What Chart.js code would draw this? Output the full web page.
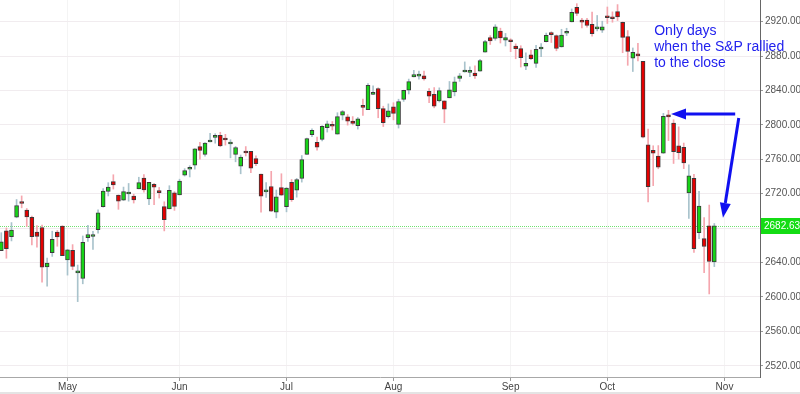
<!DOCTYPE html>
<html lang="en">
<head>
<meta charset="UTF-8">
<title>S&amp;P 500 daily candles</title>
<script src="https://cdn.jsdelivr.net/npm/chart.js@4.4.0/dist/chart.umd.min.js"></script>
<style>
  html, body { margin: 0; padding: 0; background: #fff; }
  #myChart { display: block; }
</style>
</head>
<body>
<canvas id="myChart" width="800" height="394"></canvas>
<script>
// daily candles, 12 Apr .. 30 Oct (one entry per trading day)
const dates = ['04-12','04-13','04-16','04-17','04-18','04-19','04-20','04-23','04-24','04-25','04-26','04-27','04-30',
  '05-01','05-02','05-03','05-04','05-07','05-08','05-09','05-10','05-11','05-14','05-15','05-16','05-17','05-18','05-21','05-22','05-23','05-24','05-25','05-29','05-30','05-31',
  '06-01','06-04','06-05','06-06','06-07','06-08','06-11','06-12','06-13','06-14','06-15','06-18','06-19','06-20','06-21','06-22','06-25','06-26','06-27','06-28','06-29',
  '07-02','07-03','07-05','07-06','07-09','07-10','07-11','07-12','07-13','07-16','07-17','07-18','07-19','07-20','07-23','07-24','07-25','07-26','07-27','07-30','07-31',
  '08-01','08-02','08-03','08-06','08-07','08-08','08-09','08-10','08-13','08-14','08-15','08-16','08-17','08-20','08-21','08-22','08-23','08-24','08-27','08-28','08-29','08-30','08-31',
  '09-04','09-05','09-06','09-07','09-10','09-11','09-12','09-13','09-14','09-17','09-18','09-19','09-20','09-21','09-24','09-25','09-26','09-27','09-28',
  '10-01','10-02','10-03','10-04','10-05','10-08','10-09','10-10','10-11','10-12','10-15','10-16','10-17','10-18','10-19','10-22','10-23','10-24','10-25','10-26','10-29','10-30'];

const opens = [2653.83,2676.90,2670.10,2692.74,2710.11,2701.16,2692.56,2675.40,2680.80,2634.92,2651.65,2675.47,2682.51,
  2642.96,2654.24,2628.08,2621.45,2669.00,2670.26,2678.12,2705.02,2722.70,2734.00,2718.59,2712.62,2719.71,2717.35,2725.70,2738.34,2713.98,2730.94,2723.60,2705.11,2702.43,2720.98,
  2718.70,2741.67,2748.46,2753.25,2774.84,2765.84,2780.18,2785.60,2787.94,2783.21,2777.78,2765.79,2752.01,2769.73,2769.28,2760.79,2742.94,2722.12,2728.45,2698.69,2727.13,
  2704.95,2733.27,2724.19,2737.68,2765.79,2788.56,2779.82,2783.14,2796.93,2800.68,2789.34,2811.35,2809.37,2804.55,2799.17,2820.68,2817.73,2835.49,2842.35,2819.00,2809.73,
  2821.17,2800.48,2829.62,2840.29,2855.92,2856.79,2857.19,2838.90,2835.46,2827.88,2827.95,2831.44,2838.32,2853.93,2861.51,2860.99,2860.29,2862.35,2884.69,2901.45,2900.62,2908.94,2898.37,
  2896.96,2891.59,2888.64,2868.26,2881.39,2871.57,2888.29,2896.85,2906.38,2903.83,2890.74,2906.60,2919.73,2936.76,2921.83,2921.75,2916.98,2911.65,2910.03,
  2926.29,2923.80,2931.69,2919.35,2902.54,2877.53,2882.51,2873.90,2776.87,2770.54,2763.83,2767.05,2811.67,2802.00,2775.66,2773.94,2721.03,2737.87,2674.88,2667.86,2682.65,2640.68];

const highs = [2674.72,2680.26,2686.49,2713.34,2717.49,2702.84,2693.94,2682.86,2683.55,2645.30,2676.48,2677.35,2682.87,
  2655.27,2660.87,2637.14,2670.93,2683.35,2676.34,2701.27,2726.11,2732.86,2742.10,2718.59,2727.76,2731.96,2719.50,2739.19,2742.24,2733.33,2731.97,2727.36,2710.67,2729.34,2722.50,
  2736.93,2749.16,2752.61,2772.39,2779.90,2779.39,2790.21,2789.80,2791.47,2789.06,2782.81,2774.99,2765.05,2774.86,2769.28,2764.17,2742.94,2732.91,2746.09,2724.34,2743.26,
  2727.26,2736.58,2737.83,2764.41,2784.65,2795.58,2785.91,2799.22,2804.53,2803.97,2814.19,2816.76,2812.05,2809.70,2808.61,2829.99,2848.03,2845.57,2843.17,2821.74,2824.46,
  2825.83,2829.91,2840.38,2853.29,2863.43,2862.44,2862.48,2842.20,2843.40,2843.11,2827.95,2850.49,2855.63,2859.76,2873.23,2867.54,2868.78,2876.16,2898.25,2903.77,2916.50,2912.46,2906.32,
  2900.18,2894.21,2892.05,2883.81,2886.93,2892.52,2894.65,2906.76,2908.30,2904.65,2911.17,2912.36,2934.80,2940.91,2923.79,2923.95,2931.15,2927.22,2920.53,
  2937.06,2931.42,2939.86,2919.78,2909.64,2889.45,2894.83,2874.02,2795.14,2775.77,2775.99,2813.46,2816.94,2806.04,2797.77,2778.94,2753.59,2742.59,2722.70,2692.38,2706.85,2685.43];

const lows = [2653.83,2645.05,2665.16,2692.05,2703.63,2681.90,2660.61,2657.99,2617.32,2612.67,2647.16,2659.01,2648.04,
  2625.41,2631.70,2594.62,2615.32,2664.70,2655.20,2674.14,2704.54,2717.45,2725.47,2701.91,2712.17,2711.36,2709.18,2725.70,2721.88,2707.38,2707.38,2714.99,2676.81,2702.43,2700.68,
  2718.70,2740.54,2739.51,2748.46,2760.16,2763.59,2780.17,2778.78,2774.65,2776.52,2761.73,2757.12,2743.19,2763.91,2744.39,2752.68,2698.67,2715.60,2699.38,2691.99,2718.03,
  2698.95,2711.16,2716.02,2733.52,2765.79,2786.24,2770.77,2781.53,2791.69,2794.06,2789.24,2805.89,2799.77,2800.01,2795.14,2811.12,2817.73,2835.26,2808.34,2798.11,2808.06,
  2805.85,2796.34,2827.37,2835.98,2855.92,2853.09,2851.98,2825.81,2819.88,2826.58,2802.49,2831.44,2833.73,2850.62,2861.32,2856.05,2854.03,2862.35,2884.69,2893.50,2898.40,2895.22,2891.73,
  2885.13,2876.92,2867.29,2864.12,2875.94,2866.78,2879.20,2896.39,2895.77,2886.16,2890.43,2903.82,2919.73,2927.11,2912.63,2913.70,2903.28,2909.27,2907.50,
  2917.91,2919.37,2921.36,2883.92,2869.29,2862.08,2874.27,2784.86,2710.51,2729.44,2749.03,2766.91,2781.81,2755.18,2760.27,2749.22,2691.43,2651.89,2667.84,2628.16,2603.54,2635.34];

const closes = [2663.99,2656.30,2677.84,2706.39,2708.64,2693.13,2670.14,2670.29,2634.56,2639.40,2666.94,2669.91,2648.05,
  2654.80,2635.67,2629.73,2663.42,2672.63,2671.92,2697.79,2723.07,2727.72,2730.13,2711.45,2722.46,2720.13,2712.97,2733.01,2724.44,2733.29,2727.76,2721.33,2689.86,2724.01,2705.27,
  2734.62,2746.87,2748.80,2772.35,2770.37,2779.03,2782.00,2786.85,2775.63,2782.49,2779.66,2773.75,2762.59,2767.32,2749.76,2754.88,2717.07,2723.06,2699.63,2716.31,2718.37,
  2726.71,2713.22,2736.61,2759.82,2784.17,2793.84,2774.02,2798.29,2801.31,2798.43,2809.55,2815.62,2804.49,2801.83,2806.98,2820.40,2846.07,2837.44,2818.82,2802.60,2816.29,
  2813.36,2827.22,2840.35,2850.40,2858.45,2857.70,2853.58,2833.28,2821.93,2839.96,2818.37,2840.69,2850.13,2857.05,2862.96,2861.82,2856.98,2874.69,2896.74,2897.52,2914.04,2901.13,2901.52,
  2896.72,2888.60,2878.05,2871.68,2877.13,2887.89,2888.92,2904.18,2904.98,2888.80,2904.31,2907.95,2930.75,2929.67,2919.37,2915.56,2905.97,2914.00,2913.98,
  2924.59,2923.43,2925.51,2901.61,2885.57,2884.43,2880.34,2785.68,2728.37,2767.13,2750.79,2809.92,2809.21,2768.78,2767.78,2755.88,2740.69,2656.10,2705.57,2658.69,2641.25,2682.63];

// axis ticks
const monthTickIndex = [13, 35, 56, 77, 100, 119, 142];
const monthLabels = ['May', 'Jun', 'Jul', 'Aug', 'Sep', 'Oct', 'Nov'];
const priceTicks = [2520, 2560, 2600, 2640, 2680, 2720, 2760, 2800, 2840, 2880, 2920];
const lastPrice = 2682.63;

// note + arrows, in data units (x = trading day index, y = price)
const noteLines = ['Only days', 'when the S&P rallied', 'to the close'];
const noteAnchor = { x: 128.2, y: 2904.5 };
const arrows = [
  { from: { x: 144.1, y: 2812.8 }, to: { x: 131.5, y: 2812.8 } },
  { from: { x: 144.8, y: 2808.0 }, to: { x: 141.7, y: 2692.0 } }
];

const isUp = opens.map((o, i) => closes[i] >= o);
const bodyColors = isUp.map(u => u ? '#17d317' : '#e50000');
const wickColors = isUp.map(u => u ? '#a9c3cc' : '#f5a6ae');

const ctx = document.getElementById('myChart').getContext('2d');

function drawArrow(c, x1, y1, x2, y2) {
    const ang = Math.atan2(y2 - y1, x2 - x1);
    const headLen = 15, headHalf = 5.5;
    const bx = x2 - headLen * Math.cos(ang), by = y2 - headLen * Math.sin(ang);
    c.strokeStyle = '#1010f0';
    c.fillStyle = '#1010f0';
    c.lineWidth = 3;
    c.beginPath();
    c.moveTo(x1, y1);
    c.lineTo(bx, by);
    c.stroke();
    c.beginPath();
    c.moveTo(x2, y2);
    c.lineTo(bx + headHalf * Math.sin(ang), by - headHalf * Math.cos(ang));
    c.lineTo(bx - headHalf * Math.sin(ang), by + headHalf * Math.cos(ang));
    c.closePath();
    c.fill();
}

const overlay = {
    id: 'overlay',
    beforeDatasetsDraw(chart) {
        const c = chart.ctx, a = chart.chartArea;
        const y = Math.round(chart.scales.y.getPixelForValue(lastPrice)) + 0.5;
        c.save();
        c.strokeStyle = '#70e070';
        c.lineWidth = 1;
        c.setLineDash([1, 1]);
        c.beginPath();
        c.moveTo(a.left, y);
        c.lineTo(a.right, y);
        c.stroke();
        c.restore();
    },
    afterDraw(chart) {
        const c = chart.ctx, a = chart.chartArea;
        const xs = chart.scales.x, ys = chart.scales.y;
        c.save();
        // last price tag
        const py = Math.round(ys.getPixelForValue(lastPrice));
        c.fillStyle = '#14dc14';
        c.fillRect(a.right + 1, py - 8, chart.width - a.right, 16);
        c.fillStyle = '#ffffff';
        c.font = '10px Arial';
        c.textBaseline = 'middle';
        c.textAlign = 'left';
        c.fillText(lastPrice.toFixed(2), a.right + 4, py);
        // note
        c.fillStyle = '#2222ee';
        c.font = '14px Arial';
        c.textBaseline = 'alphabetic';
        const nx = xs.getPixelForValue(noteAnchor.x), ny = ys.getPixelForValue(noteAnchor.y);
        noteLines.forEach((t, i) => c.fillText(t, nx, ny + i * 16));
        // arrows
        arrows.forEach(ar => drawArrow(c,
            xs.getPixelForValue(ar.from.x), ys.getPixelForValue(ar.from.y),
            xs.getPixelForValue(ar.to.x), ys.getPixelForValue(ar.to.y)));
        // bottom strip
        c.fillStyle = '#e4e4e4';
        c.fillRect(0, chart.height - 2, chart.width, 2);
        c.restore();
    }
};

function noPad(axis) {
    axis.paddingTop = 0;
    axis.paddingBottom = 0;
    axis.paddingLeft = 0;
    axis.paddingRight = 0;
}

const chart = new Chart(ctx, {
    type: 'bar',
    data: {
        datasets: [{
            label: 'wick',
            data: dates.map((d, i) => ({ x: i, y: [lows[i], highs[i]] })),
            backgroundColor: wickColors,
            barThickness: 1,
            grouped: false,
            order: 2
        }, {
            label: 'body',
            data: dates.map((d, i) => ({ x: i, y: [opens[i], closes[i]] })),
            backgroundColor: bodyColors,
            borderColor: '#3b3b3b',
            borderWidth: 1,
            borderSkipped: false,
            barThickness: 4,
            minBarLength: 2,
            grouped: false,
            order: 1
        }]
    },
    options: {
        responsive: false,
        animation: false,
        layout: { padding: 0 },
        plugins: {
            legend: { display: false },
            tooltip: { enabled: false }
        },
        scales: {
            x: {
                type: 'linear',
                offset: false,
                min: -0.255,
                max: 148.97,
                afterBuildTicks: (axis) => { axis.ticks = monthTickIndex.map(v => ({ value: v })); },
                afterFit: (axis) => { axis.height = 17; noPad(axis); },
                ticks: {
                    autoSkip: false,
                    maxRotation: 0,
                    padding: 0,
                    color: '#444',
                    font: { family: 'Arial', size: 10 },
                    callback: (v) => monthLabels[monthTickIndex.indexOf(v)]
                },
                grid: {
                    offset: false,
                    color: '#f4f4f4',
                    tickColor: '#999',
                    tickLength: 4
                },
                border: { color: '#a8a8a8' }
            },
            y: {
                position: 'right',
                min: 2507,
                max: 2945.2,
                afterBuildTicks: (axis) => { axis.ticks = priceTicks.map(v => ({ value: v })); },
                afterFit: (axis) => { axis.width = 40; noPad(axis); },
                ticks: {
                    padding: 2,
                    color: '#555',
                    font: { family: 'Arial', size: 10 },
                    callback: (v) => Number(v).toFixed(2)
                },
                grid: {
                    color: '#f1ecef',
                    tickColor: '#999',
                    tickLength: 3
                },
                border: { color: '#666' }
            }
        }
    },
    plugins: [overlay]
});
</script>
</body>
</html>
